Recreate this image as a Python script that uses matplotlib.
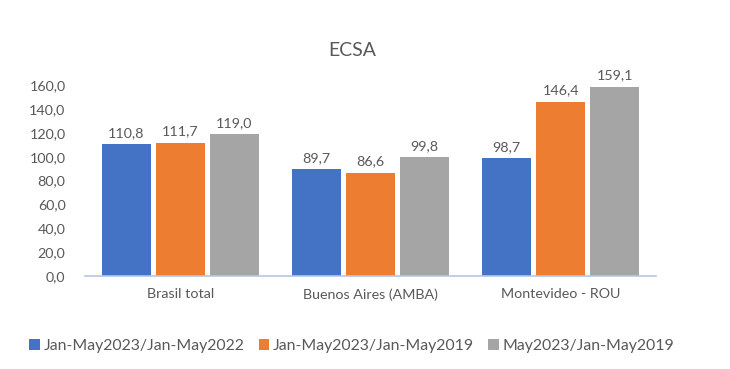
import matplotlib.pyplot as plt
import numpy as np

categories = ['Brasil total', 'Buenos Aires (AMBA)', 'Montevideo - ROU']
series_names = ['Jan-May2023/Jan-May2022', 'Jan-May2023/Jan-May2019', 'May2023/Jan-May2019']
vals_2022 = [110.8, 89.7, 98.7]
vals_2019 = [111.7, 86.6, 146.4]
vals_may = [119.0, 99.8, 159.1]
colors = ['#4472C4', '#ED7D31', '#A5A5A5']
yticks = [0, 20, 40, 60, 80, 100, 120, 140, 160]

plt.rcParams['font.family'] = ['Lato', 'DejaVu Sans']
txt = '#595959'

fig = plt.figure(figsize=(7.3, 3.69), dpi=100)
ax = fig.add_axes([85/730, 1-275.7/369, 571/730, (275.7-85.6)/369])

x = np.arange(len(categories))
step = 0.284
width = 0.257
handles = []
for i, (vals, c) in enumerate(zip([vals_2022, vals_2019, vals_may], colors)):
    b = ax.bar(x + (i-1)*step, vals, width, color=c, zorder=2)
    handles.append(b)
    for xi, v in zip(x + (i-1)*step, vals):
        ax.text(xi, v + 4.5, ('%.1f' % v).replace('.', ','), ha='center', va='bottom',
                fontsize=10.3, color=txt)

ax.set_xlim(-0.5, 2.5)
ax.set_ylim(0, 160)
ax.set_yticks(yticks)
ax.set_yticklabels([('%.1f' % t).replace('.', ',') for t in yticks], fontsize=10.3, color=txt)
ax.set_xticks(x)
ax.set_xticklabels(categories, fontsize=10.3, color=txt)
ax.tick_params(axis='both', length=0)
ax.tick_params(axis='y', pad=14)
ax.tick_params(axis='x', pad=9)
for s in ['top', 'right', 'left']:
    ax.spines[s].set_visible(False)
ax.spines['bottom'].set_color('#B4C6E7')
ax.spines['bottom'].set_linewidth(1.2)

fig.text(352/730, 1-50/369, 'ECSA', ha='center', va='center', fontsize=14, color=txt)

fig.legend(handles, series_names, loc='center', bbox_to_anchor=(352/730, 1-346/369),
           ncol=3, frameon=False, fontsize=11.4, labelcolor=txt,
           handlelength=0.65, handleheight=0.65, handletextpad=0.25, columnspacing=0.9)

plt.savefig('out.png', dpi=100)
